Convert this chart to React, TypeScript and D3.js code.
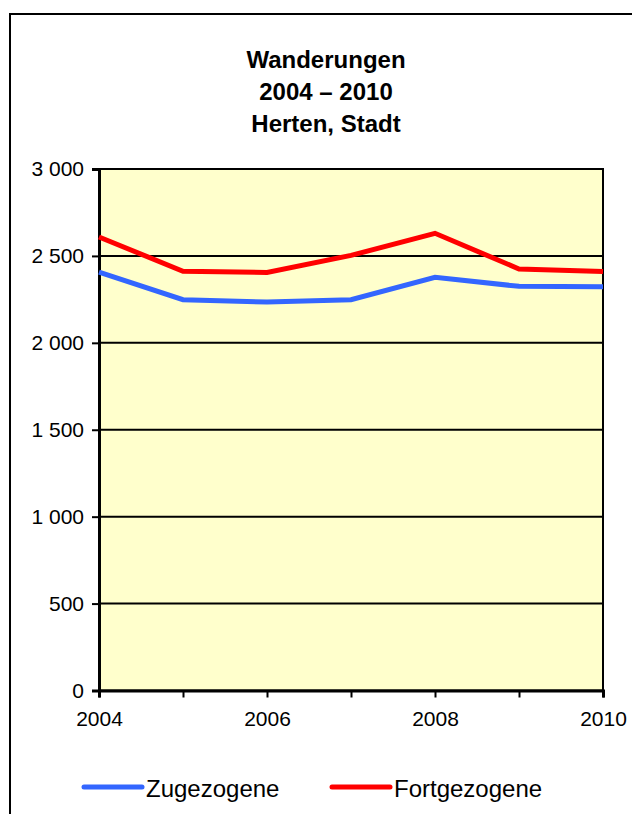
import { useEffect, useRef } from 'react'
import * as d3 from 'd3'

const years = [2004, 2005, 2006, 2007, 2008, 2009, 2010]
const zugezogene = [2407, 2248, 2235, 2248, 2377, 2325, 2323]
const fortgezogene = [2609, 2412, 2405, 2503, 2630, 2425, 2410]
const yTicks = [0, 500, 1000, 1500, 2000, 2500, 3000]
const xLabelYears = [2004, 2006, 2008, 2010]
const titleLines = ['Wanderungen', '2004 – 2010', 'Herten, Stadt']
const seriesNames = ['Zugezogene', 'Fortgezogene']
const seriesColors = ['#3366ff', '#ff0000']

const W = 632
const H = 814
const FONT = 'Arial, "Liberation Sans", Helvetica, sans-serif'

export default function App() {
  const ref = useRef<SVGSVGElement | null>(null)

  useEffect(() => {
    const svg = d3.select(ref.current)
    svg.selectAll('*').remove()

    const plot = { left: 99, right: 603, top: 169, bottom: 690.5 }

    const x = d3.scaleLinear().domain([2004, 2010]).range([plot.left, plot.right])
    const y = d3.scaleLinear().domain([0, 3000]).range([plot.bottom, plot.top])
    const fmt = d3.formatLocale({ decimal: ',', thousands: ' ', grouping: [3], currency: ['', ''] }).format(',')

    svg.append('rect').attr('width', W).attr('height', H).attr('fill', '#fff')

    // outer frame
    svg
      .append('rect')
      .attr('x', 10)
      .attr('y', 14)
      .attr('width', W + 20)
      .attr('height', H + 20)
      .attr('fill', 'none')
      .attr('stroke', '#000')
      .attr('stroke-width', 2)

    // title
    const title = svg.append('g').attr('font-family', FONT).attr('font-weight', 'bold').attr('font-size', 24)
    titleLines.forEach((t, i) => {
      title
        .append('text')
        .attr('x', 326)
        .attr('y', 68 + i * 32)
        .attr('text-anchor', 'middle')
        .text(t)
    })

    // plot background
    svg
      .append('rect')
      .attr('x', plot.left)
      .attr('y', plot.top)
      .attr('width', plot.right - plot.left)
      .attr('height', plot.bottom - plot.top)
      .attr('fill', '#ffffcc')
      .attr('stroke', '#000')
      .attr('stroke-width', 2)

    // grid lines
    svg
      .append('g')
      .selectAll('line')
      .data(yTicks.filter((d) => d > 0))
      .join('line')
      .attr('x1', plot.left)
      .attr('x2', plot.right)
      .attr('y1', (d) => y(d))
      .attr('y2', (d) => y(d))
      .attr('stroke', '#000')
      .attr('stroke-width', 2)

    // y axis
    const yAxis = svg
      .append('g')
      .attr('transform', `translate(${plot.left},0)`)
      .call(d3.axisLeft(y).tickValues(yTicks).tickSize(7).tickPadding(8).tickFormat((d) => fmt(d as number)))
    yAxis.select('.domain').attr('stroke-width', 3)
    yAxis.selectAll('line').attr('stroke-width', 2)
    yAxis.selectAll('text').attr('font-family', FONT).attr('font-size', 21).attr('fill', '#000')

    // x axis
    const xAxis = svg
      .append('g')
      .attr('transform', `translate(0,${plot.bottom})`)
      .call(
        d3
          .axisBottom(x)
          .tickValues(years)
          .tickSize(7)
          .tickPadding(14)
          .tickFormat((d) => (xLabelYears.includes(d as number) ? String(d) : ''))
      )
    xAxis.select('.domain').attr('stroke-width', 3)
    xAxis.selectAll('line').attr('stroke-width', 2)
    xAxis.selectAll('text').attr('font-family', FONT).attr('font-size', 21).attr('fill', '#000')

    // series
    const line = d3
      .line<number>()
      .x((_, i) => x(years[i]))
      .y((d) => y(d))
    ;[zugezogene, fortgezogene].forEach((vals, i) => {
      svg
        .append('path')
        .attr('d', line(vals))
        .attr('fill', 'none')
        .attr('stroke', seriesColors[i])
        .attr('stroke-width', 5)
        .attr('stroke-linejoin', 'miter')
    })

    // legend
    const legendX = [84, 332]
    const legend = svg.append('g').attr('font-family', FONT).attr('font-size', 24)
    seriesNames.forEach((name, i) => {
      legend
        .append('line')
        .attr('x1', legendX[i])
        .attr('x2', legendX[i] + 58)
        .attr('y1', 787)
        .attr('y2', 787)
        .attr('stroke', seriesColors[i])
        .attr('stroke-width', 5)
        .attr('stroke-linecap', 'round')
      legend
        .append('text')
        .attr('x', legendX[i] + 62)
        .attr('y', 797)
        .text(name)
    })
  }, [])

  return (
    <svg
      ref={ref}
      width={W}
      height={H}
      style={{ position: 'absolute', left: 0, top: 0, display: 'block' }}
    />
  )
}
